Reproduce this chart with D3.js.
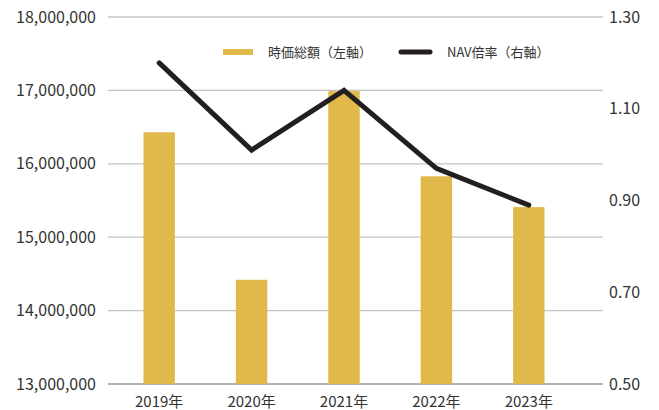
<!DOCTYPE html>
<html>
<head>
<meta charset="utf-8">
<script src="https://cdn.jsdelivr.net/npm/d3@7"></script>
<style>
  body { margin: 0; background: #fff; }
  text { font-family: "Noto Sans CJK JP", "Noto Sans", sans-serif; fill: #333; }
</style>
</head>
<body>
<svg id="chart" width="659" height="410"></svg>
<script>
// data
var years = ["2019年", "2020年", "2021年", "2022年", "2023年"];
var marketCap = [16430000, 14420000, 16990000, 15830000, 15410000];
var navRatio = [1.20, 1.01, 1.14, 0.97, 0.89];
var leftTicks = [13000000, 14000000, 15000000, 16000000, 17000000, 18000000];
var rightTicks = [0.50, 0.70, 0.90, 1.10, 1.30];

var svg = d3.select("#chart");
// plot box (note: "top" is taken by window.top)
var plotLeft = 108, plotRight = 603, plotTop = 17, plotBottom = 384;

var x = d3.scaleBand().domain(years).range([113, 575]).paddingInner(0.66).paddingOuter(0.33);
var yL = d3.scaleLinear().domain([13000000, 18000000]).range([plotBottom, plotTop]);
var yR = d3.scaleLinear().domain([0.5, 1.3]).range([plotBottom, plotTop]);

// gridlines
svg.append("g").selectAll("line")
    .data(leftTicks)
    .enter().append("line")
    .attr("x1", plotLeft).attr("x2", plotRight)
    .attr("y1", function (d) { return yL(d); })
    .attr("y2", function (d) { return yL(d); })
    .attr("stroke", function (d, i) { return i === 0 ? "#999" : "#c4c4c4"; })
    .attr("stroke-width", 1.3);

// left axis labels
var fmt = d3.format(",");
svg.append("g").selectAll("text")
    .data(leftTicks)
    .enter().append("text")
    .attr("x", 96)
    .attr("y", function (d) { return yL(d); })
    .attr("dy", "0.35em")
    .attr("text-anchor", "end")
    .style("font-size", "16px")
    .text(function (d) { return fmt(d); });

// right axis labels
svg.append("g").selectAll("text")
    .data(rightTicks)
    .enter().append("text")
    .attr("x", 609)
    .attr("y", function (d) { return yR(d); })
    .attr("dy", "0.35em")
    .style("font-size", "16px")
    .text(function (d) { return d.toFixed(2); });

// bars
svg.append("g").selectAll("rect")
    .data(marketCap)
    .enter().append("rect")
    .attr("x", function (d, i) { return x(years[i]); })
    .attr("y", function (d) { return yL(d); })
    .attr("width", x.bandwidth())
    .attr("height", function (d) { return yL(13000000) - yL(d); })
    .attr("fill", "#e0b94a");

// x labels
svg.append("g").selectAll("text")
    .data(years)
    .enter().append("text")
    .attr("x", function (d) { return x(d) + x.bandwidth() / 2; })
    .attr("y", 402)
    .attr("dy", "0.35em")
    .attr("text-anchor", "middle")
    .style("font-size", "15px")
    .text(function (d) { return d; });

// NAV line
var line = d3.line()
    .x(function (d, i) { return x(years[i]) + x.bandwidth() / 2; })
    .y(function (d) { return yR(d); });

svg.append("path")
    .datum(navRatio)
    .attr("d", line)
    .attr("fill", "none")
    .attr("stroke", "#231f20")
    .attr("stroke-width", 5)
    .attr("stroke-linejoin", "miter")
    .attr("stroke-linecap", "round");

// legend
var legend = svg.append("g");
legend.append("rect")
    .attr("x", 223).attr("y", 49).attr("width", 30).attr("height", 6)
    .attr("fill", "#e0b94a");
legend.append("text")
    .attr("x", 268).attr("y", 52).attr("dy", "0.35em")
    .style("font-size", "13px")
    .text("時価総額（左軸）");
legend.append("line")
    .attr("x1", 401).attr("x2", 430).attr("y1", 52).attr("y2", 52)
    .attr("stroke", "#231f20").attr("stroke-width", 5).attr("stroke-linecap", "round");
legend.append("text")
    .attr("x", 447).attr("y", 52).attr("dy", "0.35em")
    .style("font-size", "13px")
    .text("NAV倍率（右軸）");
</script>
</body>
</html>
